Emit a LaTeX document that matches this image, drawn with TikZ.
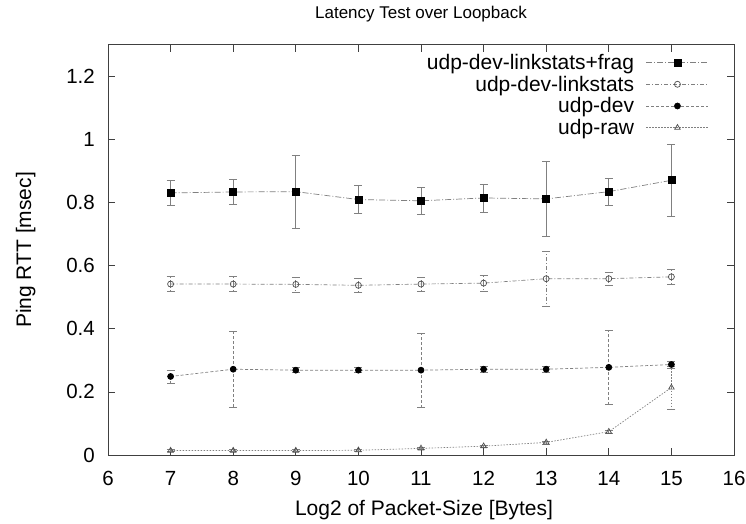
\documentclass[tikz,border=0pt]{standalone}
\usepackage{fontspec}
\setmainfont{Liberation Sans}
\usepackage{pgfplots}
\pgfplotsset{compat=1.18}
\usepackage{xcolor}

\pgfplotsset{
  rttline/.style={gray, line width=0.7pt},
  rttbars/.style={error bars/.cd, y dir=both, y explicit,
    error bar style={gray, line width=0.7pt, #1},
    error mark options={gray, mark size=4pt, solid, rotate=90}},
}

\begin{document}
\begin{tikzpicture}[x=1pt,y=1pt]
\useasboundingbox (0,0) rectangle (746,523);
\begin{axis}[
    at={(108pt,68pt)}, anchor=south west,
    scale only axis, width=626pt, height=410pt,
    xmin=6, xmax=16, ymin=0, ymax=1.3,
    xtick={6,...,16},
    ytick={0,0.2,0.4,0.6,0.8,1,1.2},
    xticklabel={\pgfmathprintnumber[assume math mode=true]{\tick}},
    yticklabel={\pgfmathprintnumber[assume math mode=true]{\tick}},
    axis line style={black!75, line width=1pt},
    major tick length=7pt,
    tick style={black!75, line width=0.8pt},
    tick label style={font=\fontsize{20.5}{24}\selectfont, inner sep=0pt},
    xticklabel style={yshift=-16pt},
    yticklabel style={xshift=-13pt},
    legend plot pos=right,
    legend cell align=right,
    legend style={at={(1,1)}, anchor=north east, xshift=-22pt, yshift=-5pt,
      draw=none, fill=none, font=\fontsize{21}{21}\selectfont,
      row sep=1pt, column sep=10pt, nodes={inner sep=2pt}},
    legend image code/.code={
      \draw[mark repeat=2, mark phase=2, #1]
        plot coordinates {(0pt,0pt) (31pt,0pt) (62pt,0pt)};
    },
]
% 四组数据 (x, y) +- (0, err)
\addplot[rttline, dash pattern=on 6pt off 2pt on 1pt off 2pt,
  mark=square*, mark size=3.5pt, mark options={solid, black},
  rttbars={solid}]
  coordinates {
    (7,0.831) +- (0,0.040)  (8,0.834) +- (0,0.039)  (9,0.835) +- (0,0.117)
    (10,0.810) +- (0,0.044) (11,0.806) +- (0,0.043) (12,0.815) +- (0,0.045)
    (13,0.812) +- (0,0.118) (14,0.835) +- (0,0.043) (15,0.871) +- (0,0.114)
  };
\addlegendentry{udp-dev-linkstats+frag}
\addplot[rttline, dash pattern=on 4pt off 2pt on 1pt off 2pt,
  mark=o, mark size=3pt, mark options={solid, black!70},
  rttbars={dash pattern=on 4pt off 2pt on 1pt off 2pt}]
  coordinates {
    (7,0.542) +- (0,0.024)  (8,0.542) +- (0,0.024)  (9,0.541) +- (0,0.024)
    (10,0.538) +- (0,0.022) (11,0.542) +- (0,0.022) (12,0.545) +- (0,0.025)
    (13,0.559) +- (0,0.087) (14,0.559) +- (0,0.022) (15,0.565) +- (0,0.025)
  };
\addlegendentry{udp-dev-linkstats}
\addplot[rttline, dash pattern=on 3pt off 2pt,
  mark=*, mark size=3pt, mark options={solid, black},
  rttbars={dash pattern=on 3pt off 2pt}]
  coordinates {
    (7,0.249) +- (0,0.020)  (8,0.272) +- (0,0.120)  (9,0.269) +- (0,0.008)
    (10,0.269) +- (0,0.008) (11,0.269) +- (0,0.118) (12,0.272) +- (0,0.010)
    (13,0.272) +- (0,0.010) (14,0.278) +- (0,0.118) (15,0.287) +- (0,0.012)
  };
\addlegendentry{udp-dev}
\addplot[rttline, dash pattern=on 1.5pt off 1.5pt,
  mark=triangle, mark size=3.2pt, mark options={solid, black!70},
  rttbars={dash pattern=on 1.5pt off 1.5pt}]
  coordinates {
    (7,0.014) +- (0,0.003)  (8,0.014) +- (0,0.003)  (9,0.014) +- (0,0.003)
    (10,0.015) +- (0,0.003) (11,0.021) +- (0,0.003) (12,0.028) +- (0,0.004)
    (13,0.040) +- (0,0.005) (14,0.074) +- (0,0.006) (15,0.214) +- (0,0.068)
  };
\addlegendentry{udp-raw}
\end{axis}
\node[font=\fontsize{17}{20}\selectfont, anchor=base] (title) at (421,504) {Latency Test over Loopback};
\node[font=\fontsize{21}{25}\selectfont, anchor=base] (xlab) at (424,8) {Log2 of Packet-Size [Bytes]};
\node[font=\fontsize{21}{25}\selectfont, rotate=90, anchor=base] (ylab) at (31,273) {Ping RTT [msec]};
\end{tikzpicture}
\end{document}
